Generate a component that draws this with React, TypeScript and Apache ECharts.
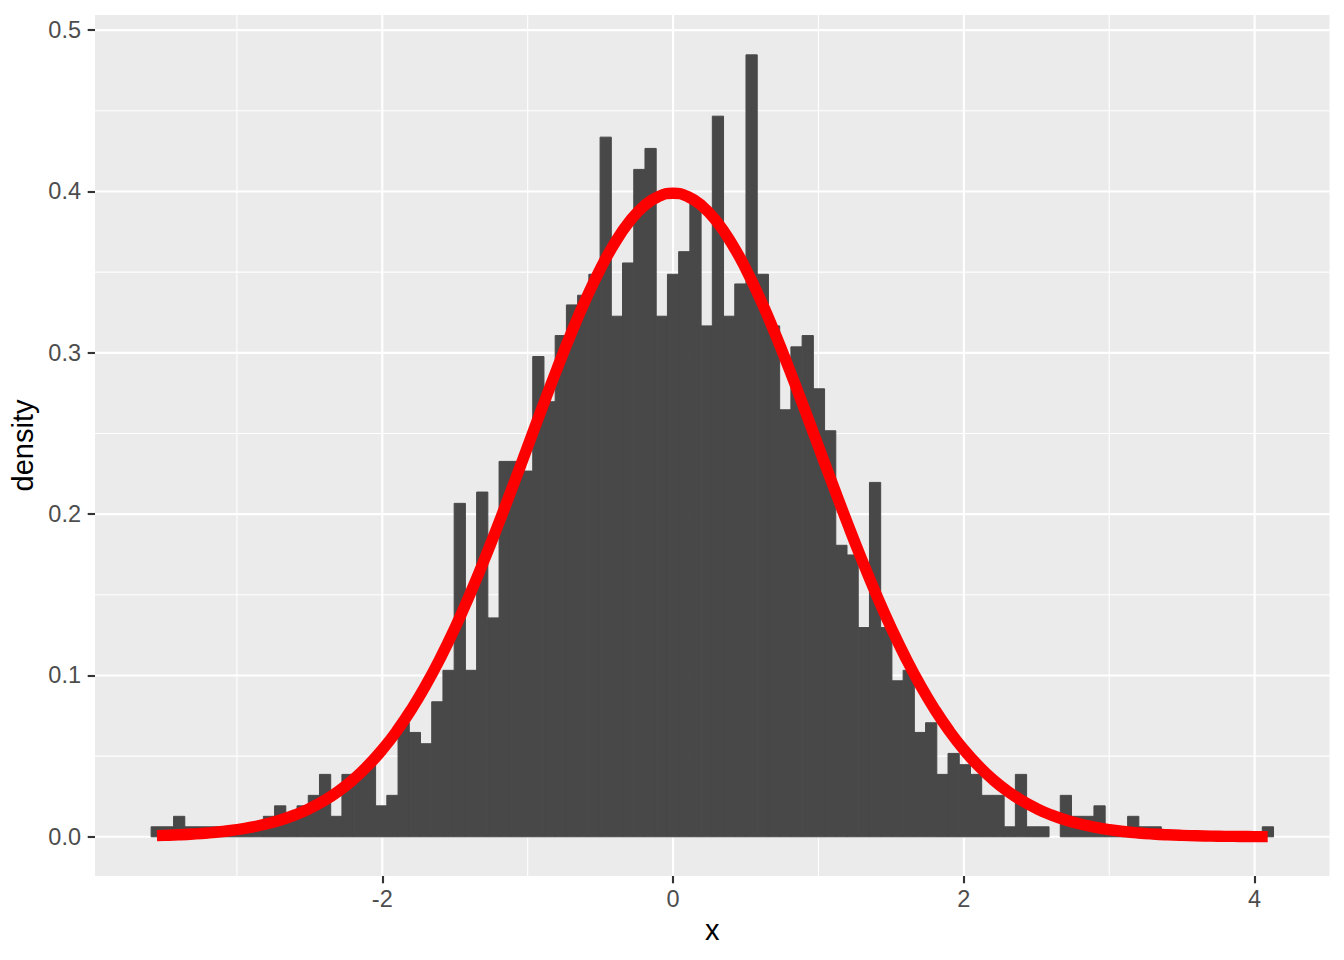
import React, { useEffect, useRef } from 'react';
import * as echarts from 'echarts';

// Histogram bins (ggplot2, 100 bins)
const binStart = -3.59;
const binWidth = 0.0772;
const densities = [
  0.0065, 0.0065, 0.013, 0.0065, 0.0065, 0.0065, 0.0065, 0.0065, 0.0065, 0.0065,
  0.013, 0.0195, 0.013, 0.0195, 0.026, 0.039, 0.013, 0.039, 0.039, 0.045,
  0.0195, 0.026, 0.071, 0.065, 0.058, 0.084, 0.1035, 0.207, 0.1035, 0.214,
  0.136, 0.233, 0.233, 0.227, 0.298, 0.27, 0.311, 0.33, 0.336, 0.349,
  0.434, 0.323, 0.356, 0.414, 0.427, 0.323, 0.349, 0.363, 0.395, 0.317,
  0.447, 0.323, 0.343, 0.485, 0.349, 0.317, 0.265, 0.304, 0.311, 0.278,
  0.252, 0.181, 0.175, 0.13, 0.22, 0.13, 0.097, 0.1035, 0.065, 0.071,
  0.039, 0.052, 0.045, 0.039, 0.026, 0.026, 0.0065, 0.039, 0.0065, 0.0065,
  0, 0.026, 0.013, 0.013, 0.0195, 0.0065, 0.0065, 0.013, 0.0065, 0.0065,
  0, 0, 0, 0, 0, 0, 0, 0, 0, 0.0065,
];

// Red density curve
const curveX = [
  -3.55, -3.5, -3.4, -3.3, -3.2, -3.1, -3.0, -2.9, -2.8, -2.7, -2.6, -2.5, -2.4, -2.3, -2.2, -2.1,
  -2.0, -1.9, -1.8, -1.7, -1.6, -1.5, -1.4, -1.3, -1.2, -1.1, -1.0, -0.9, -0.8, -0.7, -0.6, -0.5,
  -0.4, -0.3, -0.2, -0.1, 0.0, 0.1, 0.2, 0.3, 0.4, 0.5, 0.6, 0.7, 0.8, 0.9, 1.0, 1.1,
  1.2, 1.3, 1.4, 1.5, 1.6, 1.7, 1.8, 1.9, 2.0, 2.1, 2.2, 2.3, 2.4, 2.5, 2.6, 2.7,
  2.8, 2.9, 3.0, 3.1, 3.2, 3.3, 3.4, 3.5, 3.6, 3.7, 3.8, 3.9, 4.0, 4.09,
];
const curveY = [
  0.00073, 0.00087, 0.00123, 0.00172, 0.00238, 0.00327, 0.00443, 0.00595, 0.00792, 0.01042, 0.01358, 0.01753, 0.02239, 0.02833, 0.03547, 0.04398,
  0.05399, 0.06562, 0.07895, 0.09405, 0.11092, 0.12952, 0.14973, 0.17137, 0.19419, 0.21785, 0.24197, 0.26609, 0.28969, 0.31225, 0.33322, 0.35207,
  0.36827, 0.38139, 0.39104, 0.39695, 0.39894, 0.39695, 0.39104, 0.38139, 0.36827, 0.35207, 0.33322, 0.31225, 0.28969, 0.26609, 0.24197, 0.21785,
  0.19419, 0.17137, 0.14973, 0.12952, 0.11092, 0.09405, 0.07895, 0.06562, 0.05399, 0.04398, 0.03547, 0.02833, 0.02239, 0.01753, 0.01358, 0.01042,
  0.00792, 0.00595, 0.00443, 0.00327, 0.00238, 0.00172, 0.00123, 0.00087, 0.00061, 0.00042, 0.00029, 0.0002, 0.00013, 0.00009,
];

const xBreaks = [-2, 0, 2, 4];
const xMinorBreaks = [-3, -1, 1, 3];
const yBreaks = [0, 0.1, 0.2, 0.3, 0.4, 0.5];
const yMinorBreaks = [0.05, 0.15, 0.25, 0.35, 0.45];
const xLimits = [-3.976, 4.515];
const yLimits = [-0.0243, 0.5094];

const FONT = "'Liberation Sans', Arial, Helvetica, sans-serif";

export default function App() {
  const ref = useRef<HTMLDivElement>(null);

  useEffect(() => {
    const chart = echarts.init(ref.current!, null, { renderer: 'svg' });

    const barData = densities
      .map((d, i) => [binStart + i * binWidth, binStart + (i + 1) * binWidth, d])
      .filter((r) => r[2] > 0);

    const vGrid = [
      ...xMinorBreaks.map((v) => [v, 0, 1.07]),
      ...xBreaks.map((v) => [v, 0, 2.13]),
    ];
    const hGrid = [
      ...yMinorBreaks.map((v) => [0, v, 1.07]),
      ...yBreaks.map((v) => [0, v, 2.13]),
    ];

    chart.setOption({
      animation: false,
      grid: {
        left: 95,
        right: 14.5,
        top: 15,
        bottom: 84,
        show: true,
        backgroundColor: '#EBEBEB',
        borderWidth: 0,
      },
      xAxis: {
        type: 'value',
        min: xLimits[0],
        max: xLimits[1],
        axisLine: { show: false, onZero: false },
        axisTick: {
          show: true,
          customValues: xBreaks,
          length: 7.3,
          lineStyle: { color: '#333333', width: 2.13 },
        },
        axisLabel: {
          customValues: xBreaks,
          margin: 11,
          fontSize: 23.5,
          color: '#4D4D4D',
          fontFamily: FONT,
        },
        splitLine: { show: false },
        minorSplitLine: { show: false },
        name: 'x',
        nameLocation: 'middle',
        nameGap: 39,
        nameTextStyle: { fontSize: 29, color: '#000000', fontFamily: FONT },
      },
      yAxis: {
        type: 'value',
        min: yLimits[0],
        max: yLimits[1],
        axisLine: { show: false, onZero: false },
        axisTick: {
          show: true,
          customValues: yBreaks,
          length: 7.3,
          lineStyle: { color: '#333333', width: 2.13 },
        },
        axisLabel: {
          customValues: yBreaks,
          margin: 14,
          fontSize: 23.5,
          color: '#4D4D4D',
          fontFamily: FONT,
          formatter: (v: number) => v.toFixed(1),
        },
        splitLine: { show: false },
        name: 'density',
        nameLocation: 'middle',
        nameRotate: 90,
        nameGap: 53,
        nameTextStyle: { fontSize: 29, color: '#000000', fontFamily: FONT },
      },
      series: [
        {
          type: 'custom',
          silent: true,
          z: 1,
          data: vGrid,
          encode: { x: 0, y: 1 },
          renderItem: (params: any, api: any) => {
            const v = api.value(0);
            const w = api.value(2);
            const a = api.coord([v, yLimits[0]]);
            const b = api.coord([v, yLimits[1]]);
            return {
              type: 'line',
              shape: { x1: a[0], y1: a[1], x2: b[0], y2: b[1] },
              style: { stroke: '#FFFFFF', lineWidth: w },
            };
          },
        },
        {
          type: 'custom',
          silent: true,
          z: 1,
          data: hGrid,
          encode: { x: 0, y: 1 },
          renderItem: (params: any, api: any) => {
            const v = api.value(1);
            const w = api.value(2);
            const a = api.coord([xLimits[0], v]);
            const b = api.coord([xLimits[1], v]);
            return {
              type: 'line',
              shape: { x1: a[0], y1: a[1], x2: b[0], y2: b[1] },
              style: { stroke: '#FFFFFF', lineWidth: w },
            };
          },
        },
        {
          type: 'custom',
          silent: true,
          z: 2,
          data: barData,
          encode: { x: [0, 1], y: 2 },
          renderItem: (params: any, api: any) => {
            const a = api.coord([api.value(0), api.value(2)]);
            const b = api.coord([api.value(1), 0]);
            return {
              type: 'rect',
              shape: { x: a[0], y: a[1] + 0.5, width: b[0] - a[0], height: b[1] - a[1] - 0.5 },
              style: { fill: '#484848', stroke: '#484848', lineWidth: 1 },
            };
          },
        },
        {
          type: 'line',
          silent: true,
          z: 3,
          data: curveX.map((x, i) => [x, curveY[i]]),
          smooth: true,
          showSymbol: false,
          symbol: 'none',
          lineStyle: { color: '#FF0000', width: 11.4, cap: 'butt', join: 'round' },
        },
      ],
    });

    return () => chart.dispose();
  }, []);

  return (
    <div
      ref={ref}
      style={{ position: 'fixed', left: 0, top: 0, width: 1344, height: 960, background: '#FFFFFF' }}
    />
  );
}
